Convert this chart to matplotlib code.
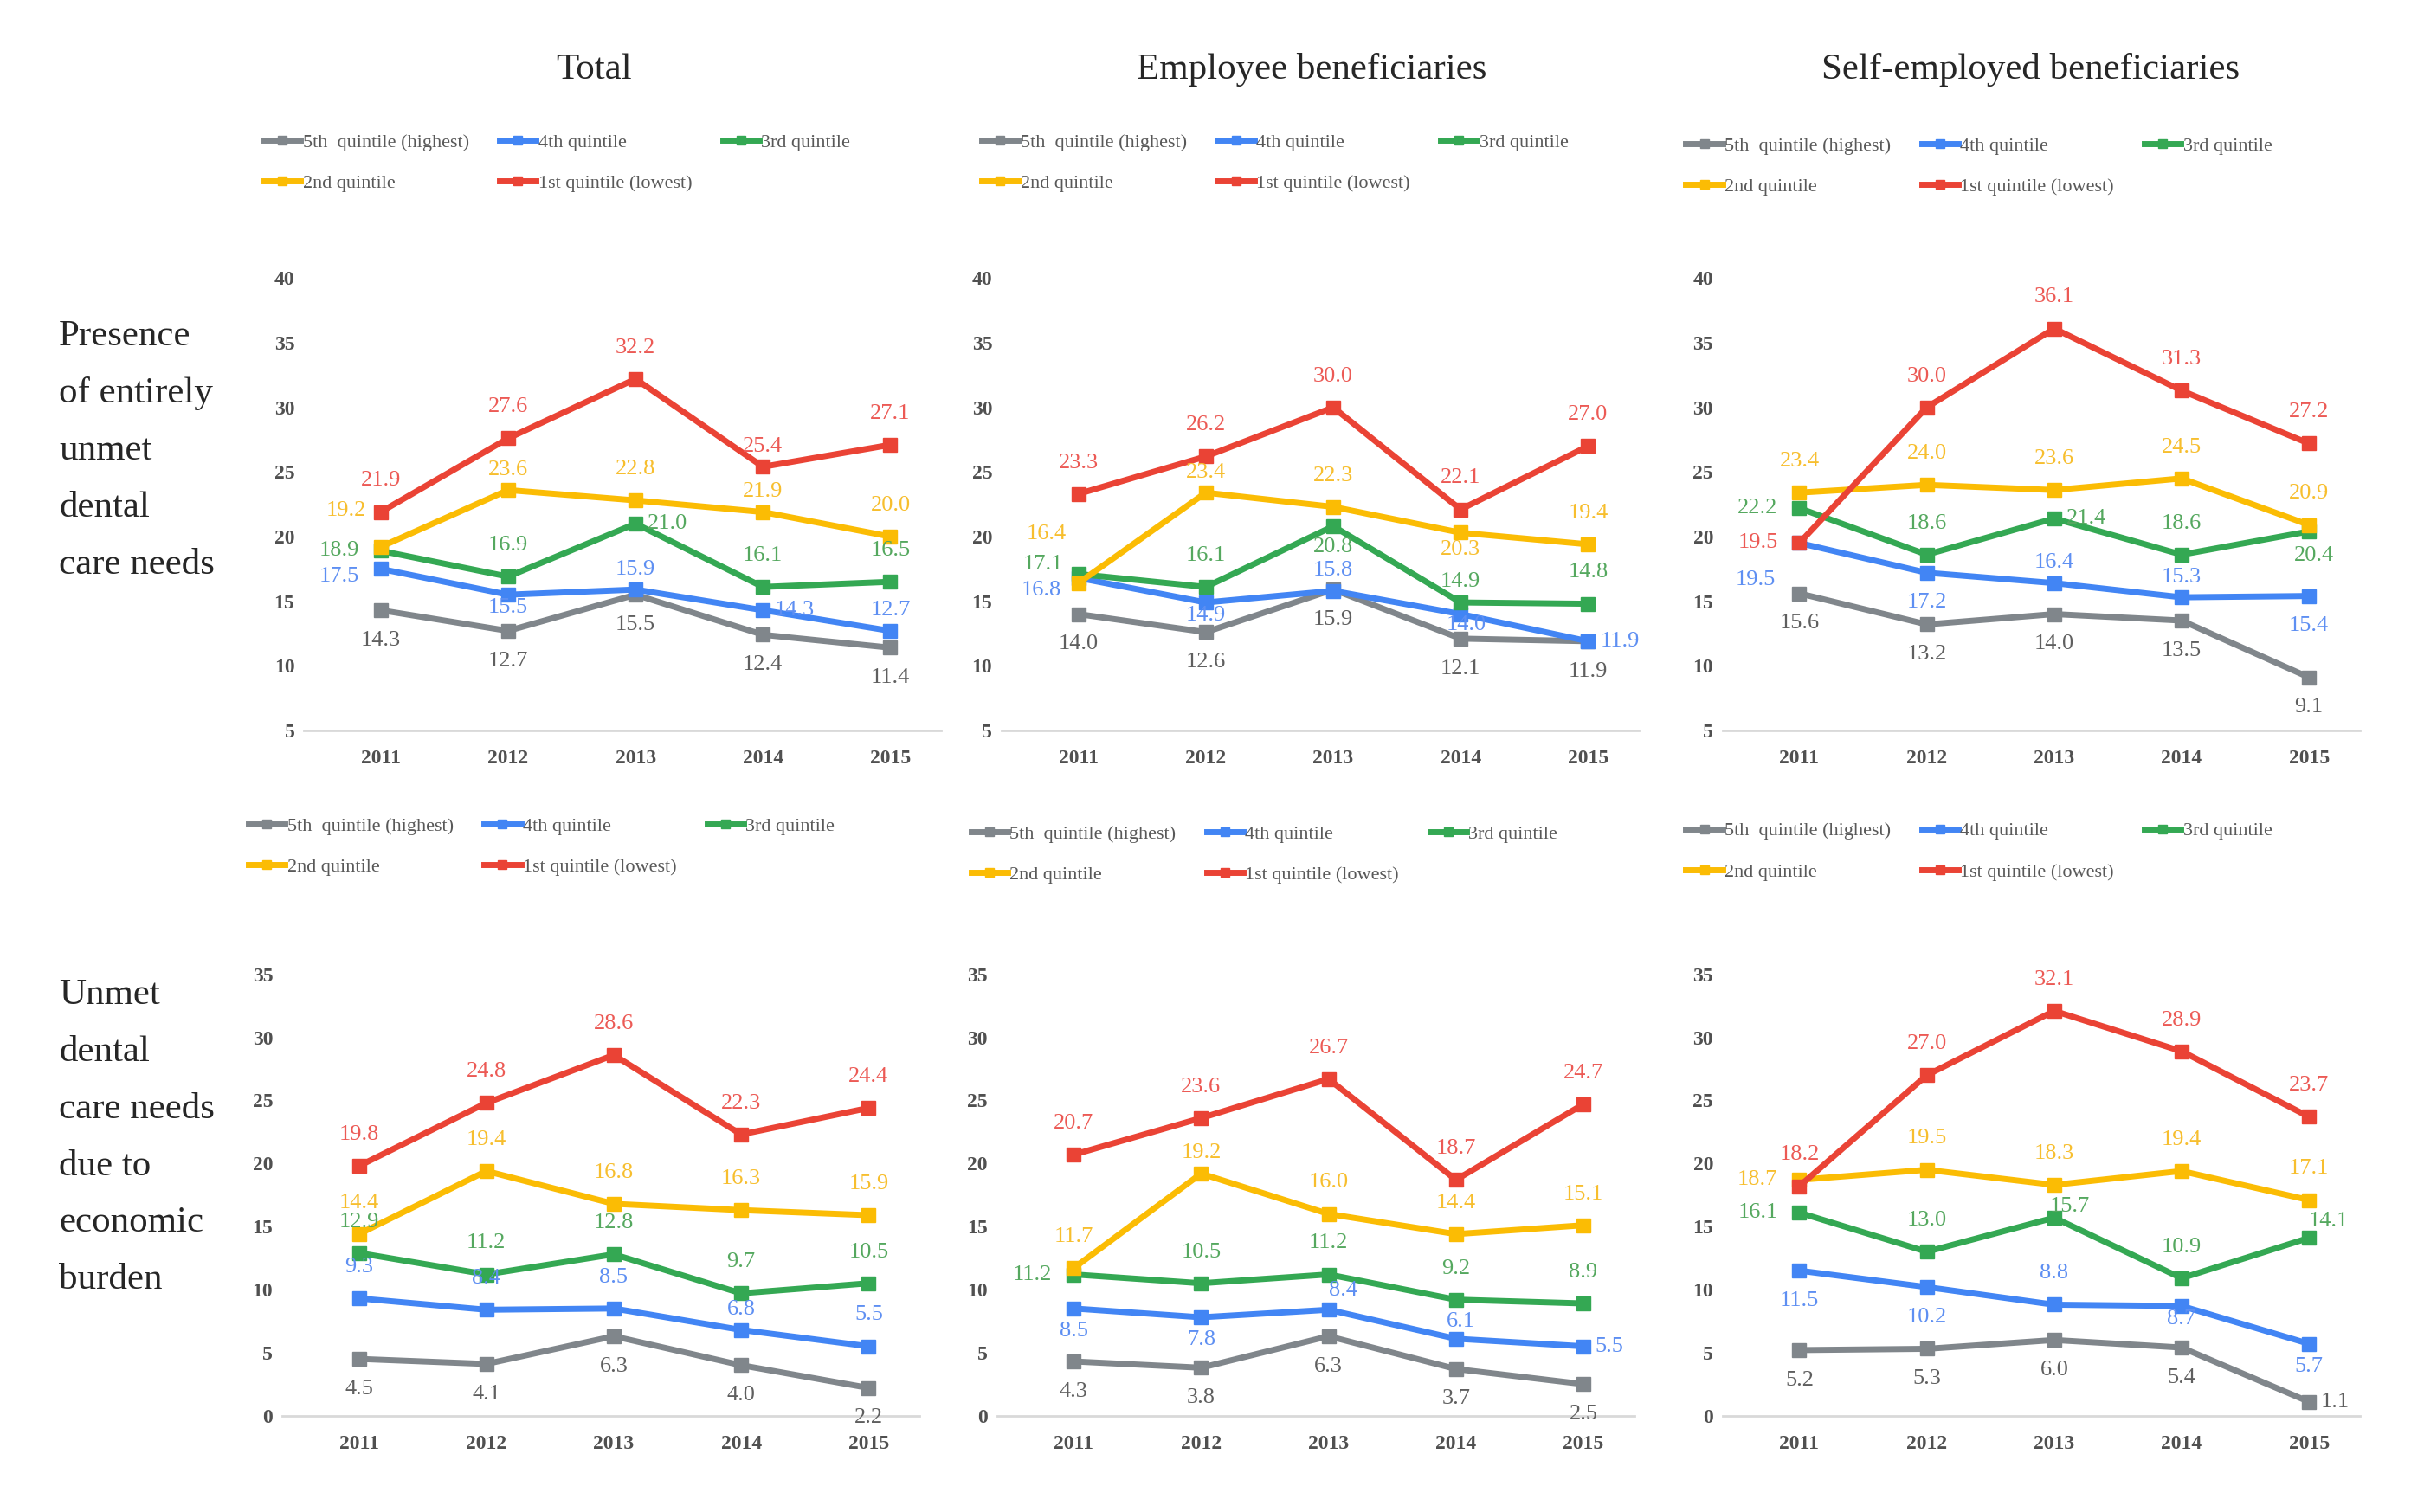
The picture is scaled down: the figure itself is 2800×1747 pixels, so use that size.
import matplotlib
matplotlib.use("Agg")
import matplotlib.pyplot as plt
from matplotlib.lines import Line2D
import numpy as np

plt.rcParams['font.family'] = ['Liberation Serif', 'DejaVu Serif']

years = ['2011', '2012', '2013', '2014', '2015']
groups = ['5th  quintile (highest)', '4th quintile', '3rd quintile', '2nd quintile', '1st quintile (lowest)']
col_titles = ['Total', 'Employee beneficiaries', 'Self-employed beneficiaries']
row_titles = ['Presence\nof entirely\nunmet\ndental\ncare needs',
              'Unmet\ndental\ncare needs\ndue to\neconomic\nburden']

# presence of entirely unmet dental care needs (%)
top_total = [[14.3, 12.7, 15.5, 12.4, 11.4],
             [17.5, 15.5, 15.9, 14.3, 12.7],
             [18.9, 16.9, 21.0, 16.1, 16.5],
             [19.2, 23.6, 22.8, 21.9, 20.0],
             [21.9, 27.6, 32.2, 25.4, 27.1]]
top_employee = [[14.0, 12.6, 15.9, 12.1, 11.9],
                [16.8, 14.9, 15.8, 14.0, 11.9],
                [17.1, 16.1, 20.8, 14.9, 14.8],
                [16.4, 23.4, 22.3, 20.3, 19.4],
                [23.3, 26.2, 30.0, 22.1, 27.0]]
top_self = [[15.6, 13.2, 14.0, 13.5, 9.1],
            [19.5, 17.2, 16.4, 15.3, 15.4],
            [22.2, 18.6, 21.4, 18.6, 20.4],
            [23.4, 24.0, 23.6, 24.5, 20.9],
            [19.5, 30.0, 36.1, 31.3, 27.2]]

# unmet dental care needs due to economic burden (%)
bot_total = [[4.5, 4.1, 6.3, 4.0, 2.2],
             [9.3, 8.4, 8.5, 6.8, 5.5],
             [12.9, 11.2, 12.8, 9.7, 10.5],
             [14.4, 19.4, 16.8, 16.3, 15.9],
             [19.8, 24.8, 28.6, 22.3, 24.4]]
bot_employee = [[4.3, 3.8, 6.3, 3.7, 2.5],
                [8.5, 7.8, 8.4, 6.1, 5.5],
                [11.2, 10.5, 11.2, 9.2, 8.9],
                [11.7, 19.2, 16.0, 14.4, 15.1],
                [20.7, 23.6, 26.7, 18.7, 24.7]]
bot_self = [[5.2, 5.3, 6.0, 5.4, 1.1],
            [11.5, 10.2, 8.8, 8.7, 5.7],
            [16.1, 13.0, 15.7, 10.9, 14.1],
            [18.7, 19.5, 18.3, 19.4, 17.1],
            [18.2, 27.0, 32.1, 28.9, 23.7]]

# label placement code per point (see offsets below)
pos_top_total = ['bbbbb', 'LBArA', 'laraa', 'uAaAa', 'aaaAa']
pos_top_employee = ['bbbbb', 'fBAwr', 'eaCAa', 'UAaDa', 'aaaaa']
pos_top_self = ['bbbbb', 'dbAAb', 'larax', 'aaaaa', 'laaaa']
pos_bot_total = ['bbbbb', 'aaaAa', 'aaaaa', 'aaaaa', 'aaaaa']
pos_bot_employee = ['bbbbb', 'EEvgr', 'laaaa', 'aAaaa', 'aaaaa']
pos_bot_self = ['bbbbr', 'bbaBE', 'lahak', 'laaaa', 'aaaaa']

line_colors = ['#80868B', '#4285F4', '#34A853', '#FBBC04', '#EA4335']
text_colors = ['#5F5F5F', '#5E8FF2', '#55A85F', '#F7BE2E', '#EC5A55']

# (dx, dy) in points, horizontal alignment
offsets = {'a': (0, 26, 'center'), 'A': (0, 17, 'center'),
           'b': (0, -25, 'center'), 'B': (0, -11, 'center'), 'C': (0, -17, 'center'),
           'D': (0, -14, 'center'), 'E': (0, -19, 'center'),
           'l': (-18, 0, 'right'), 'L': (-18, -6, 'right'), 'r': (10, 0, 'left'),
           'u': (-12, 30, 'right'), 'U': (-10, 41, 'right'), 'd': (-20, -31, 'right'),
           'e': (-13, 8, 'right'), 'f': (-14, -10, 'right'),
           'v': (12, 16, 'center'), 'g': (4, 14, 'center'), 'h': (13, 9, 'center'),
           'k': (16, 14, 'center'), 'w': (5, -9, 'center'), 'x': (4, -20, 'center')}

panels = [(top_total, pos_top_total), (top_employee, pos_top_employee), (top_self, pos_top_self),
          (bot_total, pos_bot_total), (bot_employee, pos_bot_employee), (bot_self, pos_bot_self)]

W, H = 1560.0, 973.0  # layout measured on a reduced copy of the picture
x2011 = [245, 694, 1158, 231, 691, 1158]
row_y = [(470, 179), (911, 627)]
legend_xy = [(170, 86), (632, 86), (1085, 88), (160, 526), (625, 531), (1085, 529)]
unit = 82.0

fig = plt.figure(figsize=(28, 17.47), dpi=100)

for k, (data, pos) in enumerate(panels):
    r = k // 3
    ybot, ytop = row_y[r]
    left = (x2011[k] - 0.6 * unit) / W
    ax = fig.add_axes([left, 1 - ybot / H, 5 * unit / W, (ybot - ytop) / H])
    x = np.arange(len(years))
    for g in range(len(groups)):
        ax.plot(x, data[g], color=line_colors[g], lw=5, marker='s', ms=11, zorder=3 + g * 0.1)
        for i, v in enumerate(data[g]):
            dx, dy, ha = offsets[pos[g][i]]
            ax.annotate(f'{v:.1f}', (x[i], v), xytext=(dx, dy), textcoords='offset points',
                        ha=ha, va='center', fontsize=19, color=text_colors[g], zorder=6)
    ax.set_xlim(-0.6, 4.4)
    if r == 0:
        ax.set_ylim(5, 40)
        ax.set_yticks(range(5, 41, 5))
    else:
        ax.set_ylim(0, 35)
        ax.set_yticks(range(0, 36, 5))
    ax.set_xticks(x)
    ax.set_xticklabels(years)
    for s in ['top', 'right', 'left']:
        ax.spines[s].set_visible(False)
    ax.spines['bottom'].set_color('#D9D9D9')
    ax.spines['bottom'].set_linewidth(2)
    ax.tick_params(length=0, labelsize=17, colors='#505050')
    ax.tick_params(axis='y', pad=8)
    ax.tick_params(axis='x', pad=16)
    for t in ax.get_xticklabels() + ax.get_yticklabels():
        t.set_fontweight('bold')
    ax.patch.set_alpha(0)

    handles = [Line2D([], [], color=line_colors[g], lw=5, marker='s', ms=7) for g in range(5)]
    order = [0, 3, 1, 4, 2]
    lx, ly = legend_xy[k]
    fig.legend([handles[i] for i in order], [groups[i] for i in order], ncol=3,
               loc='upper left', bbox_to_anchor=(lx / W, 1 - ly / H), frameon=False,
               fontsize=16, labelcolor='#595959', handlelength=1.9, handletextpad=0.1,
               columnspacing=1.6, labelspacing=1.2, borderpad=0, borderaxespad=0)

title_x = [382, 844, 1307]
for j, t in enumerate(col_titles):
    fig.text(title_x[j] / W, 1 - 45 / H, t, ha='center', va='center', fontsize=31, color='#262626')

fig.text(38 / W, 1 - 290 / H, row_titles[0], ha='left', va='center', fontsize=31,
         linespacing=1.93, color='#262626')
fig.text(38 / W, 1 - 732 / H, row_titles[1], ha='left', va='center', fontsize=31,
         linespacing=1.93, color='#262626')

fig.savefig('out.png', dpi=100)
